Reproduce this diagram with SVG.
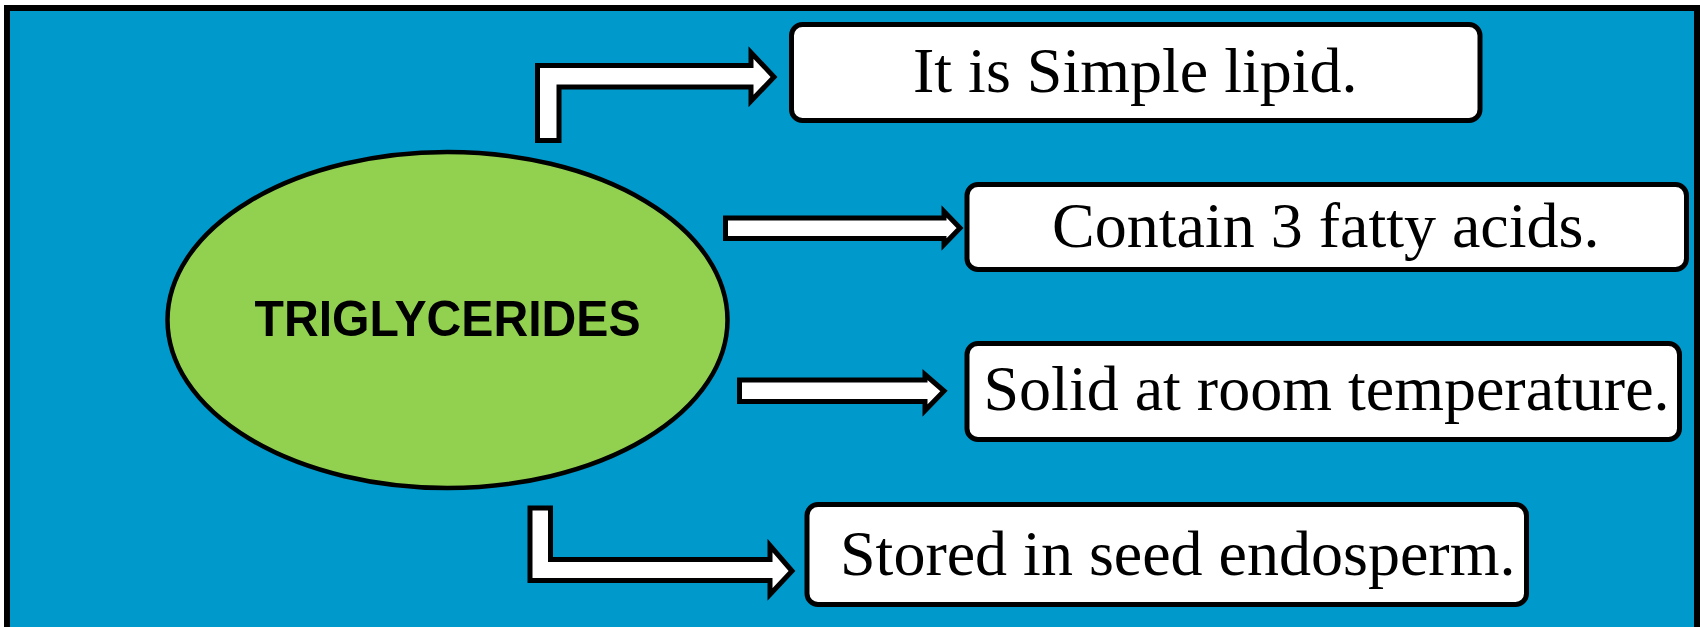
<svg xmlns="http://www.w3.org/2000/svg" width="1700" height="627" viewBox="0 0 1700 627">
<style>
.box{fill:#ffffff;stroke:#000000;stroke-width:5}
.arrow{fill:#ffffff;stroke:#000000;stroke-width:5;stroke-linejoin:miter}
.lbl{font-family:"Liberation Serif","Times New Roman",serif;font-size:64px;fill:#000000}
.main{font-family:"Liberation Sans",Arial,sans-serif;font-weight:bold;font-size:50px;fill:#000000}
</style>
<rect x="7" y="8" width="1690" height="650" fill="#0099CB" stroke="#000000" stroke-width="6"/>
<g id="triglycerides">
<ellipse cx="447.5" cy="320" rx="280" ry="168" fill="#92D050" stroke="#000000" stroke-width="4.5"/>
<text class="main" x="447.5" y="336" text-anchor="middle" textLength="386" lengthAdjust="spacingAndGlyphs">TRIGLYCERIDES</text>
</g>
<g id="connectors">
<path class="arrow" d="M537.5,140.5 L537.5,65.5 L751,65.5 L751,52.5 L774,77 L751,101 L751,87 L559,87 L559,140.5 Z"/>
<path class="arrow" d="M725.5,218 L944,218 L944,211.5 L960,228 L944,244.5 L944,238.5 L725.5,238.5 Z"/>
<path class="arrow" d="M739.5,380 L925,380 L925,374.5 L944,391 L925,410.5 L925,401.5 L739.5,401.5 Z"/>
<path class="arrow" d="M530,508 L530,580.5 L770,580.5 L770,594.5 L792,571 L770,545.5 L770,559.5 L550.5,559.5 L550.5,508 Z"/>
</g>
<g id="box1">
<rect class="box" x="791.5" y="24.5" width="688.5" height="96" rx="11"/>
<text class="lbl" x="913" y="92">It is Simple lipid.</text>
</g>
<g id="box2">
<rect class="box" x="967" y="184.5" width="719.5" height="85" rx="11"/>
<text class="lbl" x="1052" y="247">Contain 3 fatty acids.</text>
</g>
<g id="box3">
<rect class="box" x="967" y="343.5" width="712.5" height="96" rx="11"/>
<text class="lbl" x="983.5" y="410">Solid at room temperature.</text>
</g>
<g id="box4">
<rect class="box" x="807" y="504.5" width="719.5" height="100" rx="11"/>
<text class="lbl" x="840" y="575">Stored in seed endosperm.</text>
</g>
</svg>
